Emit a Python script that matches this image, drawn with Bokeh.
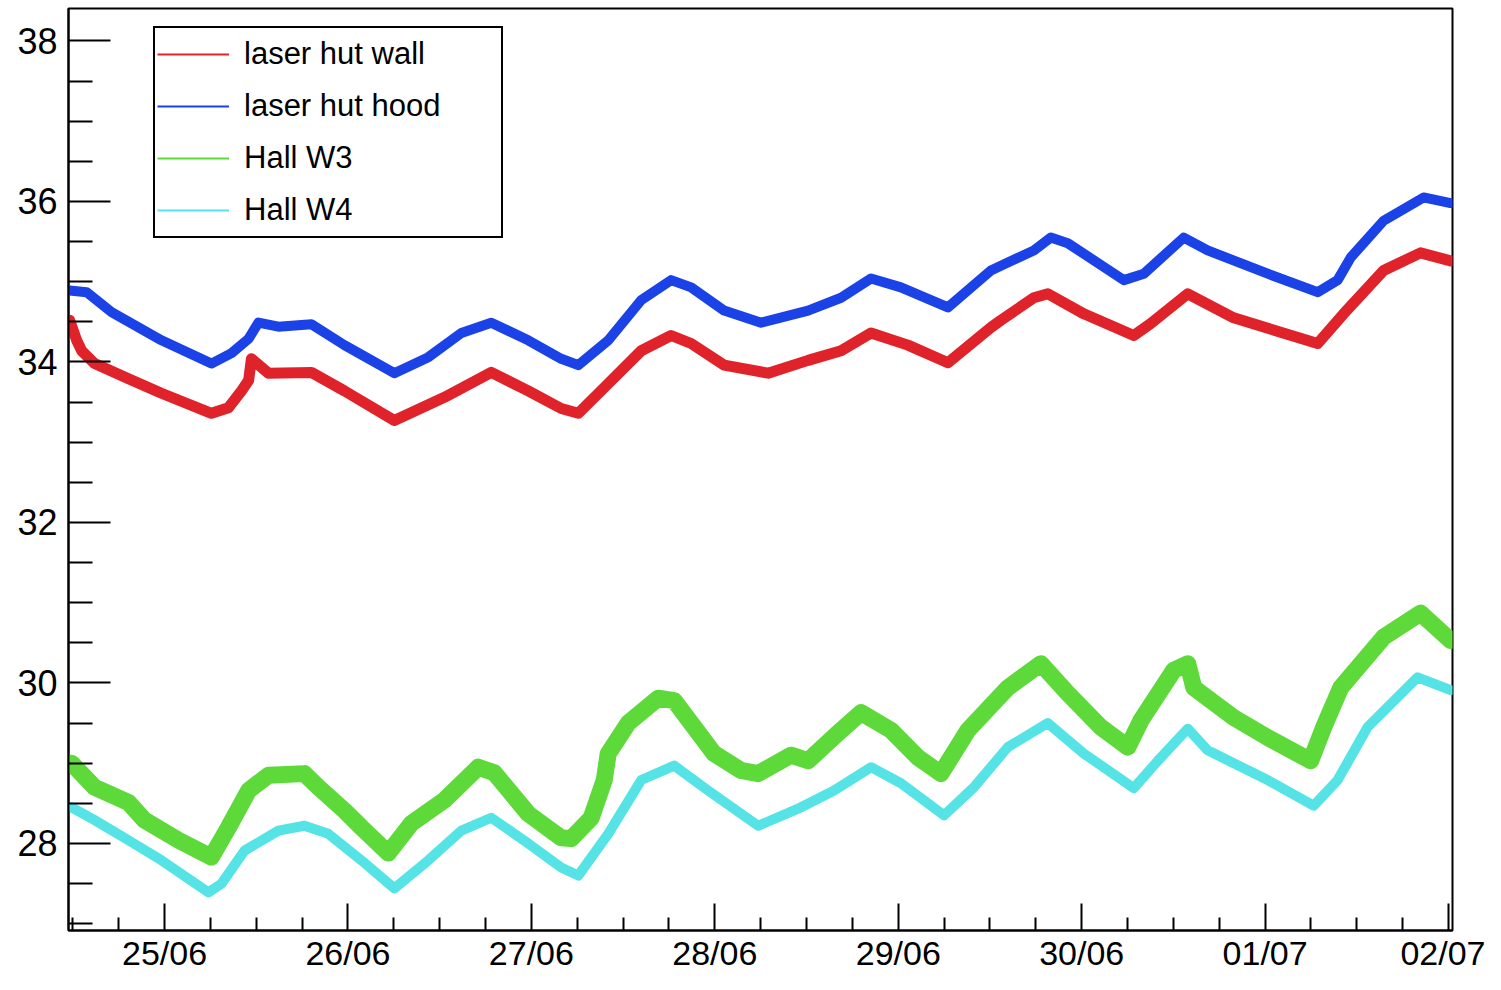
import pandas as pd
from bokeh.plotting import figure
from bokeh.models import FixedTicker, DatetimeTickFormatter, Legend, LegendItem, Range1d
from bokeh.embed import file_html
from bokeh.resources import INLINE

YEAR = "2023"

# ---- data ----
wall_t = ["24/06 11:35", "24/06 12:30", "24/06 13:09", "24/06 14:51", "24/06 19:17", "24/06 23:36",
          "25/06 06:08", "25/06 08:22", "25/06 10:04", "25/06 11:00", "25/06 11:22", "25/06 13:36",
          "25/06 19:13", "25/06 23:32", "26/06 06:04", "26/06 12:37", "26/06 18:45", "26/06 23:35",
          "27/06 03:54", "27/06 06:08", "27/06 10:03", "27/06 14:22", "27/06 18:17", "27/06 20:54",
          "28/06 01:13", "28/06 06:58", "28/06 12:12", "28/06 16:31", "28/06 20:26", "29/06 01:16",
          "29/06 06:30", "29/06 12:07", "29/06 13:26", "29/06 17:44", "29/06 19:34", "30/06 00:17",
          "30/06 06:49", "30/06 09:02", "30/06 13:53", "30/06 19:53", "01/07 06:52", "01/07 10:16",
          "01/07 15:30", "01/07 20:20", "02/07 00:16"]
wall_v = [34.52, 34.27, 34.14, 33.98, 33.79, 33.61,
          33.36, 33.43, 33.64, 33.77, 34.04, 33.86,
          33.87, 33.64, 33.27, 33.56, 33.87, 33.64,
          33.42, 33.36, 33.73, 34.14, 34.33, 34.23,
          33.96, 33.86, 34.02, 34.14, 34.36, 34.21,
          33.99, 34.43, 34.52, 34.80, 34.85, 34.60,
          34.33, 34.48, 34.85, 34.55, 34.23, 34.60,
          35.14, 35.36, 35.26]

hood_t = ["24/06 11:35", "24/06 13:48", "24/06 17:04", "24/06 23:36", "25/06 06:08", "25/06 08:46",
          "25/06 11:00", "25/06 12:17", "25/06 14:54", "25/06 19:13", "25/06 23:32", "26/06 06:04",
          "26/06 10:31", "26/06 14:50", "26/06 18:45", "26/06 23:35", "27/06 03:54", "27/06 06:08",
          "27/06 10:03", "27/06 14:22", "27/06 18:17", "27/06 20:54", "28/06 01:13", "28/06 06:03",
          "28/06 12:12", "28/06 16:31", "28/06 20:26", "29/06 00:21", "29/06 06:30", "29/06 12:07",
          "29/06 13:26", "29/06 17:44", "29/06 19:58", "29/06 22:11", "30/06 05:31", "30/06 08:08",
          "30/06 13:21", "30/06 16:29", "01/07 00:20", "01/07 06:52", "01/07 09:29", "01/07 11:11",
          "01/07 15:30", "01/07 20:44", "02/07 00:16"]
hood_v = [34.89, 34.87, 34.62, 34.27, 33.98, 34.11,
          34.29, 34.49, 34.44, 34.47, 34.21, 33.86,
          34.06, 34.36, 34.49, 34.27, 34.04, 33.96,
          34.27, 34.77, 35.02, 34.93, 34.64, 34.49,
          34.64, 34.80, 35.04, 34.93, 34.68, 35.14,
          35.20, 35.39, 35.55, 35.48, 35.02, 35.10,
          35.55, 35.39, 35.10, 34.87, 35.02, 35.30,
          35.76, 36.05, 35.98]

w3_t = ["24/06 11:50", "24/06 14:51", "24/06 19:17", "24/06 21:23", "25/06 01:50", "25/06 06:08",
        "25/06 08:22", "25/06 11:00", "25/06 13:36", "25/06 18:18", "25/06 20:08", "25/06 23:32",
        "26/06 01:45", "26/06 05:17", "26/06 08:18", "26/06 12:37", "26/06 17:03", "26/06 19:09",
        "26/06 23:35", "27/06 03:54", "27/06 05:13", "27/06 07:50", "27/06 09:32", "27/06 10:03",
        "27/06 12:40", "27/06 16:35", "27/06 18:41", "27/06 20:54", "27/06 23:54", "28/06 03:26",
        "28/06 05:40", "28/06 09:58", "28/06 12:12", "28/06 16:31", "28/06 19:08", "28/06 23:03",
        "29/06 02:35", "29/06 05:35", "29/06 09:07", "29/06 14:20", "29/06 18:40", "29/06 22:11",
        "30/06 02:30", "30/06 06:02", "30/06 07:44", "30/06 12:03", "30/06 13:53", "30/06 14:40",
        "30/06 19:53", "01/07 00:20", "01/07 05:58", "01/07 07:40", "01/07 09:53", "01/07 15:30",
        "01/07 20:20", "02/07 00:16"]
w3_v = [29.00, 28.70, 28.51, 28.29, 28.04, 27.83,
        28.20, 28.66, 28.85, 28.87, 28.70, 28.41,
        28.20, 27.88, 28.25, 28.54, 28.95, 28.88,
        28.37, 28.07, 28.06, 28.32, 28.79, 29.12,
        29.50, 29.81, 29.78, 29.50, 29.12, 28.91,
        28.87, 29.10, 29.03, 29.41, 29.63, 29.41,
        29.07, 28.87, 29.41, 29.94, 30.24, 29.87,
        29.45, 29.20, 29.53, 30.16, 30.24, 29.94,
        29.57, 29.32, 29.03, 29.45, 29.94, 30.57,
        30.87, 30.53]

w4_t = ["24/06 11:50", "24/06 14:51", "24/06 19:17", "24/06 23:36", "25/06 05:45", "25/06 07:27",
        "25/06 10:28", "25/06 14:54", "25/06 18:18", "25/06 21:26", "26/06 01:45", "26/06 06:04",
        "26/06 10:31", "26/06 14:50", "26/06 18:45", "26/06 23:35", "27/06 03:54", "27/06 06:08",
        "27/06 10:03", "27/06 14:22", "27/06 18:41", "27/06 23:07", "28/06 05:40", "28/06 11:17",
        "28/06 15:36", "28/06 20:26", "29/06 00:21", "29/06 05:59", "29/06 09:54", "29/06 14:20",
        "29/06 19:34", "30/06 00:17", "30/06 06:49", "30/06 09:58", "30/06 13:53", "30/06 16:29",
        "01/07 00:20", "01/07 06:21", "01/07 09:29", "01/07 13:25", "01/07 19:57", "02/07 00:16"]
w4_v = [28.45, 28.29, 28.04, 27.79, 27.39, 27.50,
        27.91, 28.16, 28.22, 28.12, 27.79, 27.44,
        27.79, 28.16, 28.32, 28.00, 27.70, 27.60,
        28.12, 28.79, 28.97, 28.66, 28.22, 28.45,
        28.66, 28.95, 28.75, 28.35, 28.70, 29.20,
        29.50, 29.12, 28.69, 29.03, 29.43, 29.16,
        28.79, 28.47, 28.79, 29.45, 30.07, 29.91]

labels = ["laser hut wall", "laser hut hood", "Hall W3", "Hall W4"]
colors = ["#e0232a", "#1a42e6", "#5ed93a", "#55e3e6"]
widths = [11, 10, 17, 10]

x_start, x_end = "24/06 11:26", "02/07 00:31"
y_start, y_end = 26.915, 38.405
y_major = [28, 30, 32, 34, 36, 38]
day_ticks = ["25/06 00:00", "26/06 00:00", "27/06 00:00", "28/06 00:00",
             "29/06 00:00", "30/06 00:00", "01/07 00:00", "02/07 00:00"]


def to_dt(lst):
    return pd.to_datetime([YEAR + "/" + s for s in lst], format="%Y/%d/%m %H:%M")


def ms(ts):
    return ts.value // 10**6


FONT = "Liberation Sans"

p = figure(width=1485, height=974, x_axis_type="datetime",
           output_backend="svg", toolbar_location=None,
           min_border_left=68, min_border_right=33, min_border_top=8, min_border_bottom=10)
p.x_range = Range1d(to_dt([x_start])[0], to_dt([x_end])[0])
p.y_range = Range1d(y_start, y_end)

p.xgrid.visible = False
p.ygrid.visible = False
p.outline_line_color = "black"
p.outline_line_alpha = 1.0
p.outline_line_width = 2
p.background_fill_color = "white"
p.border_fill_color = "white"

legend_renderers = []
for t, v, c, w in zip([wall_t, hood_t, w3_t, w4_t], [wall_v, hood_v, w3_v, w4_v], colors, widths):
    xs = to_dt(t)
    # thin line (fully covered by the band drawn over it) used as the legend's glyph
    legend_renderers.append(p.line(xs, v, line_color=c, line_width=2))
    p.line(xs, v, line_color=c, line_width=w, line_join="round", line_cap="round")

# x axis ticks
majors = [ms(d) for d in to_dt(day_ticks)]
start_minor = to_dt(["24/06 12:00"])[0]
minor = []
cur = start_minor
end_ts = to_dt([x_end])[0]
while cur <= end_ts:
    minor.append(ms(cur))
    cur = cur + pd.Timedelta(hours=6)
minor = [m for m in minor if m not in majors]
p.xaxis.ticker = FixedTicker(ticks=majors, minor_ticks=minor)
fmt = "%d/%m"
p.xaxis.formatter = DatetimeTickFormatter(microseconds=fmt, milliseconds=fmt, seconds=fmt,
                                          minsec=fmt, minutes=fmt, hourmin=fmt, hours=fmt,
                                          days=fmt, months=fmt, years=fmt)

ymin_list = [v / 2 for v in range(54, 78)]
ymin_list = [v for v in ymin_list if v not in y_major]
p.yaxis.ticker = FixedTicker(ticks=y_major, minor_ticks=ymin_list)

for ax in (p.xaxis[0], p.yaxis[0]):
    ax.axis_line_color = "black"
    ax.axis_line_width = 2
    ax.major_tick_line_color = "black"
    ax.minor_tick_line_color = "black"
    ax.major_tick_line_width = 2
    ax.minor_tick_line_width = 2
    ax.major_tick_out = 0
    ax.minor_tick_out = 0
    ax.major_label_text_font = FONT
    ax.major_label_text_color = "black"

p.xaxis.major_tick_in = 27
p.xaxis.minor_tick_in = 13
p.xaxis.major_label_text_font_size = "34px"
p.xaxis.major_label_standoff = 3
p.yaxis.major_tick_in = 42
p.yaxis.minor_tick_in = 24
p.yaxis.major_label_text_font_size = "36px"
p.yaxis.major_label_standoff = 11

legend = Legend(items=[LegendItem(label=l, renderers=[r]) for l, r in zip(labels, legend_renderers)],
                location=(85, 692))
legend.label_text_font = FONT
legend.label_text_font_size = "31px"
legend.label_text_color = "black"
legend.padding = 2
legend.spacing = 4
legend.label_height = 48
legend.glyph_height = 48
legend.glyph_width = 72
legend.label_standoff = 15
legend.label_width = 255
legend.border_line_color = "black"
legend.border_line_alpha = 1.0
legend.border_line_width = 2
legend.background_fill_color = "white"
legend.background_fill_alpha = 1.0
legend.margin = 0
p.add_layout(legend, "center")

open("out.html", "w").write(file_html(p, INLINE))
